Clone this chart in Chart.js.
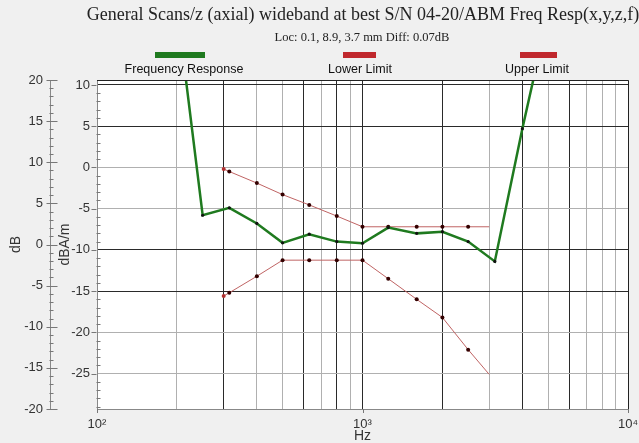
<!DOCTYPE html>
<html>
<head>
<meta charset="utf-8">
<script src="https://cdn.jsdelivr.net/npm/chart.js@4.4.1/dist/chart.umd.min.js"></script>
<style>
  html, body { margin: 0; padding: 0; background: #f0f0f0; }
  #wrap { position: relative; width: 639px; height: 443px; overflow: hidden; }
  #c { position: absolute; left: 0; top: 0; }
  .hdr { position: absolute; white-space: nowrap; transform: translateX(-50%); color: #222; }
  #title { left: 363px; top: 4px; font: 18px "Liberation Serif", serif; }
  #subtitle { left: 362px; top: 30px; font: 12.5px "Liberation Serif", serif; }
  .leg { position: absolute; font: 12.5px "Liberation Sans", Arial, sans-serif; color: #111; white-space: nowrap; transform: translateX(-50%); top: 62px; }
  .bar { position: absolute; height: 6px; top: 52px; }
</style>
</head>
<body>
<div id="wrap">
  <canvas id="c" width="639" height="443"></canvas>
  <div id="title" class="hdr">General Scans/z (axial) wideband at best S/N 04-20/ABM Freq Resp(x,y,z,f)</div>
  <div id="subtitle" class="hdr">Loc: 0.1, 8.9, 3.7 mm Diff: 0.07dB</div>
  <div class="bar" style="left:155px;width:50px;background:#1f7a1f"></div>
  <div class="leg" style="left:184px">Frequency Response</div>
  <div class="bar" style="left:343px;width:33px;background:#c0282d"></div>
  <div class="leg" style="left:360px">Lower Limit</div>
  <div class="bar" style="left:520px;width:37px;background:#c0282d"></div>
  <div class="leg" style="left:537px">Upper Limit</div>
</div>
<script>
//Valores (dBA/m, eixo interno)
const respFreqs = [200, 250, 315, 400, 500, 630, 800, 1000, 1250, 1600, 2000, 2500, 3150, 4000, 5000];
const respValues = [19.5, -5.8, -4.9, -6.8, -9.15, -8.1, -9.0, -9.2, -7.3, -8.0, -7.8, -9.0, -11.4, 4.7, 18.6];

const limitFreqs = [300, 315, 400, 500, 630, 800, 1000, 1250, 1600, 2000, 2500, 3000];
const lowerValues = [-15.6, -15.2, -13.2, -11.25, -11.25, -11.25, -11.25, -13.5, -16.0, -18.2, -22.1, -25.1];
const upperValues = [-0.2, -0.5, -1.9, -3.3, -4.55, -5.9, -7.2, -7.2, -7.2, -7.2, -7.2, -7.2];

//Ticks dos eixos
const xTickValues = [100, 200, 300, 400, 500, 600, 700, 800, 900,
  1000, 2000, 3000, 4000, 5000, 6000, 7000, 8000, 9000, 10000];
const xTickLabels = { 100: '10²', 1000: '10³', 10000: '10⁴' };
const xDarkLines = [300, 600, 800, 1000, 2000, 4000, 6000];
const yTickValues = [-25, -20, -15, -10, -5, 0, 5, 10];
const yDarkLines = [10, 5, -10, -15];
const dbTickValues = [-20, -15, -10, -5, 0, 5, 10, 15, 20];

const toPoints = (xs, ys) => xs.map((x, i) => ({ x, y: ys[i] }));

//Plugin: fundo branco da área, moldura e ticks menores
const axisTicksPlugin = {
  id: 'axisTicks',
  beforeDraw(chart) {
    const { ctx, chartArea } = chart;
    ctx.save();
    ctx.fillStyle = '#ffffff';
    ctx.fillRect(chartArea.left, chartArea.top, chartArea.right - chartArea.left, chartArea.bottom - chartArea.top);
    ctx.restore();
  },
  afterDraw(chart) {
    const { ctx, chartArea, scales } = chart;
    ctx.save();
    ctx.lineWidth = 1;
    ctx.strokeStyle = '#777';
    ctx.beginPath();
    //eixo dB (externo)
    const db = scales.yDb;
    const xb = Math.round(db.right) - 0.5;
    for (let v = -20; v <= 20; v++) {
      const y = Math.round(db.getPixelForValue(v)) + 0.5;
      const major = v % 5 === 0;
      ctx.moveTo(major ? xb - 3 : xb, y);
      ctx.lineTo(major ? xb + 8 : xb + 4, y);
    }
    //eixo dBA/m (interno)
    const yi = scales.y;
    const xi = Math.round(yi.right) - 0.5;
    for (let v = Math.ceil(yi.min); v <= Math.floor(yi.max); v++) {
      const y = Math.round(yi.getPixelForValue(v)) + 0.5;
      const major = v % 5 === 0;
      ctx.moveTo(major ? xi - 5 : xi, y);
      ctx.lineTo(major ? xi : xi + 4, y);
    }
    //ticks das décadas no eixo x
    const xs = scales.x;
    [100, 1000, 10000].forEach(v => {
      const x = Math.round(xs.getPixelForValue(v)) + 0.5;
      ctx.moveTo(x, chartArea.bottom);
      ctx.lineTo(x, chartArea.bottom + 4);
    });
    ctx.stroke();

    //moldura superior e direita
    ctx.strokeStyle = '#222';
    ctx.beginPath();
    ctx.moveTo(chartArea.left, Math.round(chartArea.top) + 0.5);
    ctx.lineTo(Math.round(chartArea.right) + 0.5, Math.round(chartArea.top) + 0.5);
    ctx.lineTo(Math.round(chartArea.right) + 0.5, chartArea.bottom);
    ctx.stroke();
    ctx.restore();
  }
};

const tickFont = { family: '"Liberation Sans", Arial, sans-serif', size: 13 };
const titleFont = { family: '"Liberation Sans", Arial, sans-serif', size: 14 };

new Chart(document.getElementById('c').getContext('2d'), {
  type: 'line',
  data: {
    datasets: [
      {
        label: 'Frequency Response',
        data: toPoints(respFreqs, respValues),
        borderColor: '#1f7a1f',
        borderWidth: 2.5,
        pointRadius: 1.6,
        pointBackgroundColor: '#111',
        pointBorderWidth: 0,
        yAxisID: 'y'
      },
      {
        label: 'Lower Limit',
        data: toPoints(limitFreqs, lowerValues),
        borderColor: '#c06464',
        borderWidth: 1,
        pointRadius: limitFreqs.map((f, i) => (i === limitFreqs.length - 1 ? 0 : 2)),
        pointBackgroundColor: limitFreqs.map((f, i) => (i === 0 ? '#b03030' : '#300')),
        pointBorderWidth: 0,
        yAxisID: 'y'
      },
      {
        label: 'Upper Limit',
        data: toPoints(limitFreqs, upperValues),
        borderColor: '#c06464',
        borderWidth: 1,
        pointRadius: limitFreqs.map((f, i) => (i === limitFreqs.length - 1 ? 0 : 2)),
        pointBackgroundColor: limitFreqs.map((f, i) => (i === 0 ? '#b03030' : '#300')),
        pointBorderWidth: 0,
        yAxisID: 'y'
      }
    ]
  },
  options: {
    responsive: false,
    animation: false,
    layout: { padding: { top: 80, right: 11, left: 0, bottom: 0 } },
    plugins: {
      legend: { display: false },
      tooltip: { enabled: false }
    },
    scales: {
      x: {
        type: 'logarithmic',
        min: 100,
        max: 10000,
        afterBuildTicks: s => { s.ticks = xTickValues.map(v => ({ value: v })); },
        afterFit: s => { s.height = 34; s.paddingLeft = 0; s.paddingRight = 0; },
        ticks: {
          autoSkip: false,
          maxRotation: 0,
          padding: 8,
          color: '#333',
          font: tickFont,
          callback: v => xTickLabels[v] || ''
        },
        grid: {
          drawTicks: false,
          color: c => (xDarkLines.includes(c.tick && c.tick.value) ? '#2a2a2a' : '#b0b0b0')
        },
        border: { color: '#888' },
        title: { display: true, text: 'Hz', color: '#333', font: { ...titleFont, lineHeight: 1.0 }, padding: { top: 0, bottom: 0 } }
      },
      y: {
        position: 'left',
        weight: 0,
        min: -29.3,
        max: 10.6,
        afterBuildTicks: s => { s.ticks = yTickValues.map(v => ({ value: v })); },
        afterFit: s => { s.width = 47; },
        ticks: { padding: 7, color: '#333', font: tickFont },
        grid: {
          drawTicks: false,
          color: c => (yDarkLines.includes(c.tick && c.tick.value) ? '#2a2a2a' : '#b0b0b0')
        },
        border: { color: '#888' },
        title: { display: true, text: 'dBA/m', color: '#333', font: titleFont, padding: { top: 7, bottom: 0 } }
      },
      yDb: {
        position: 'left',
        weight: 1,
        min: -20,
        max: 20,
        afterBuildTicks: s => { s.ticks = dbTickValues.map(v => ({ value: v })); },
        afterFit: s => { s.width = 50; },
        ticks: { padding: 7, color: '#333', font: tickFont },
        grid: { display: false, drawTicks: false },
        border: { display: true, color: '#888' },
        title: { display: true, text: 'dB', color: '#333', font: titleFont, padding: { top: 8, bottom: 0 } }
      }
    }
  },
  plugins: [axisTicksPlugin]
});
</script>
</body>
</html>
